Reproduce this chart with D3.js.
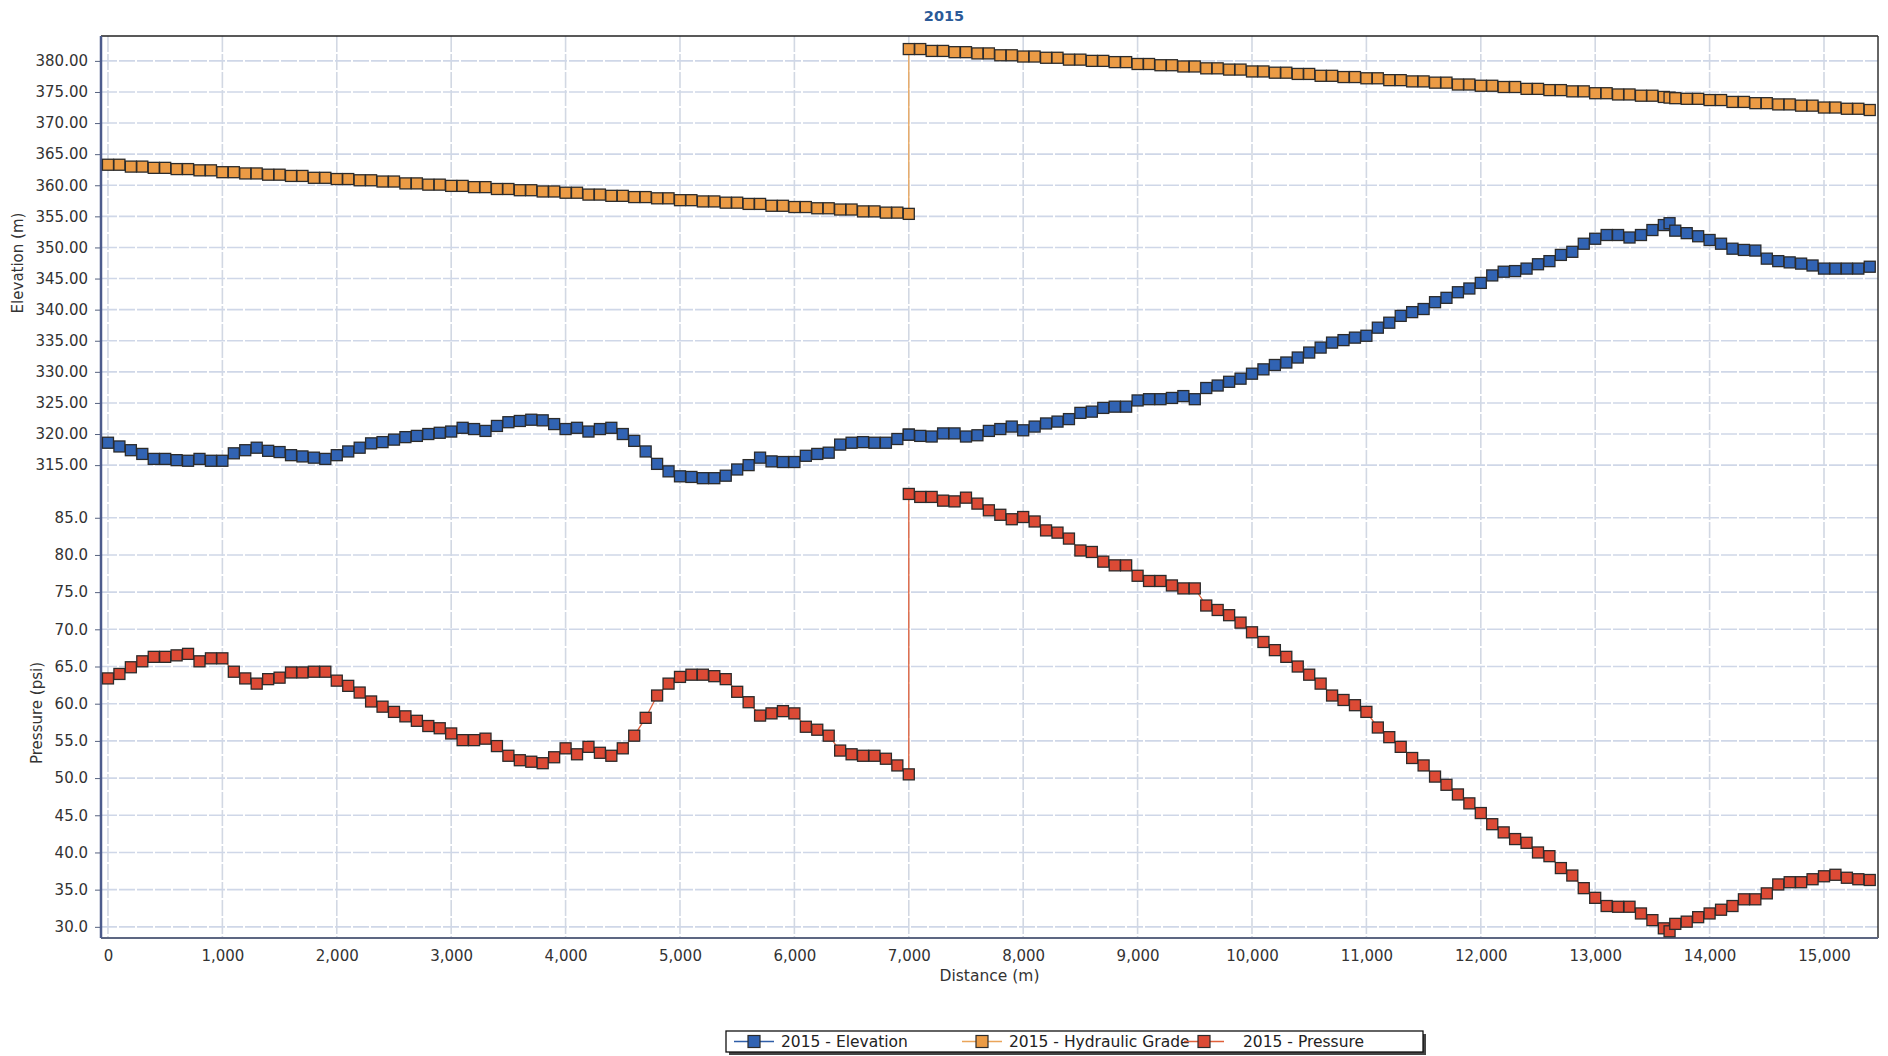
<!DOCTYPE html>
<html>
<head>
<meta charset="utf-8">
<title>2015</title>
<script src="https://d3js.org/d3.v7.min.js"></script>
<style>
  body { margin: 0; background: #fff; }
  svg text { font-family: "DejaVu Sans", Verdana, sans-serif; }
</style>
</head>
<body>
<div id="chart"></div>
<script>
// distance along the profile (m); 7000 appears twice (jump), 13650 is an extra node
const distance = [
  0,100,200,300,400,500,600,700,800,900,1000,
  1100,1200,1300,1400,1500,1600,1700,1800,1900,2000,
  2100,2200,2300,2400,2500,2600,2700,2800,2900,3000,
  3100,3200,3300,3400,3500,3600,3700,3800,3900,4000,
  4100,4200,4300,4400,4500,4600,4700,4800,4900,5000,
  5100,5200,5300,5400,5500,5600,5700,5800,5900,6000,
  6100,6200,6300,6400,6500,6600,6700,6800,6900,7000,
  7000,
  7100,7200,7300,7400,7500,7600,7700,7800,7900,8000,
  8100,8200,8300,8400,8500,8600,8700,8800,8900,9000,
  9100,9200,9300,9400,9500,9600,9700,9800,9900,10000,
  10100,10200,10300,10400,10500,10600,10700,10800,10900,11000,
  11100,11200,11300,11400,11500,11600,11700,11800,11900,12000,
  12100,12200,12300,12400,12500,12600,12700,12800,12900,13000,
  13100,13200,13300,13400,13500,13600,
  13650,
  13700,13800,13900,14000,
  14100,14200,14300,14400,14500,14600,14700,14800,14900,15000,
  15100,15200,15300,15400
]

const elevation = [
  318.6,318.0,317.4,316.8,316.0,316.0,315.8,315.7,316.0,315.7,315.7,
  316.9,317.4,317.8,317.3,317.1,316.6,316.4,316.2,316.0,316.6,
  317.2,317.8,318.5,318.7,319.1,319.5,319.7,320.0,320.2,320.4,
  321.0,320.8,320.5,321.3,321.9,322.1,322.3,322.2,321.6,320.8,
  321.0,320.4,320.8,321.0,320.0,318.9,317.2,315.2,314.0,313.2,
  313.1,312.9,312.9,313.3,314.3,315.0,316.2,315.6,315.5,315.5,
  316.5,316.8,317.0,318.3,318.6,318.7,318.6,318.6,319.2,319.9,
  319.9,
  319.7,319.6,320.1,320.1,319.6,319.8,320.5,320.8,321.2,320.6,
  321.2,321.7,322.0,322.4,323.4,323.6,324.2,324.4,324.4,325.4,
  325.6,325.6,325.8,326.1,325.6,327.4,327.8,328.4,328.9,329.7,
  330.4,331.1,331.5,332.3,333.1,333.9,334.7,335.1,335.5,335.8,
  337.1,337.9,339.0,339.6,340.1,341.2,341.9,342.8,343.4,344.3,
  345.5,346.1,346.2,346.6,347.3,347.8,348.8,349.3,350.6,351.4,
  352.0,352.0,351.6,352.0,352.8,353.6,
  353.9,
  352.7,352.3,351.8,351.2,
  350.6,349.8,349.6,349.5,348.2,347.8,347.6,347.4,347.1,346.6,
  346.6,346.6,346.6,346.9
]

const hydraulicGrade = [
  363.3,363.3,363.0,363.0,362.8,362.8,362.6,362.6,362.4,362.4,362.1,
  362.1,361.9,361.9,361.7,361.7,361.5,361.5,361.2,361.2,361.0,
  361.0,360.8,360.8,360.6,360.6,360.3,360.3,360.1,360.1,359.9,
  359.9,359.7,359.7,359.4,359.4,359.2,359.2,359.0,359.0,358.8,
  358.8,358.5,358.5,358.3,358.3,358.1,358.1,357.9,357.9,357.6,
  357.6,357.4,357.4,357.2,357.2,357.0,357.0,356.7,356.7,356.5,
  356.5,356.3,356.3,356.1,356.1,355.8,355.8,355.6,355.6,355.4,
  381.9,
  381.9,381.6,381.6,381.4,381.4,381.2,381.2,380.9,380.9,380.7,
  380.7,380.5,380.5,380.2,380.2,380.0,380.0,379.8,379.8,379.5,
  379.5,379.3,379.3,379.1,379.1,378.8,378.8,378.6,378.6,378.3,
  378.3,378.1,378.1,377.9,377.9,377.6,377.6,377.4,377.4,377.2,
  377.2,376.9,376.9,376.7,376.7,376.5,376.5,376.2,376.2,376.0,
  376.0,375.8,375.8,375.5,375.5,375.3,375.3,375.1,375.1,374.8,
  374.8,374.6,374.6,374.4,374.4,374.2,
  374.1,
  374.0,373.9,373.9,373.7,
  373.7,373.4,373.4,373.2,373.2,373.0,373.0,372.8,372.8,372.5,
  372.5,372.3,372.3,372.1
]

const pressure = [
  63.4,64.0,64.9,65.7,66.3,66.3,66.5,66.7,65.7,66.1,66.1,
  64.3,63.4,62.7,63.3,63.5,64.2,64.2,64.3,64.3,63.1,
  62.4,61.5,60.3,59.6,58.9,58.3,57.7,57.0,56.7,56.0,
  55.1,55.1,55.3,54.3,53.0,52.4,52.2,52.0,52.8,54.0,
  53.2,54.2,53.4,53.0,54.0,55.7,58.1,61.1,62.7,63.6,
  63.9,63.9,63.7,63.3,61.6,60.2,58.4,58.7,59.0,58.7,
  56.9,56.5,55.7,53.7,53.2,53.0,53.0,52.6,51.7,50.5,
  88.2,
  87.8,87.8,87.3,87.2,87.7,86.9,86.0,85.4,84.8,85.1,
  84.5,83.3,83.0,82.2,80.6,80.4,79.1,78.6,78.6,77.2,
  76.5,76.5,75.9,75.5,75.5,73.2,72.6,71.9,70.9,69.6,
  68.3,67.2,66.3,65.0,63.9,62.7,61.1,60.5,59.8,58.9,
  56.8,55.5,54.2,52.7,51.7,50.2,49.1,47.8,46.6,45.3,
  43.8,42.7,41.8,41.3,40.0,39.5,37.9,36.9,35.2,33.9,
  32.8,32.7,32.7,31.8,30.9,29.8,
  29.4,
  30.4,30.7,31.3,31.8,
  32.3,32.8,33.7,33.7,34.5,35.7,36.0,36.0,36.4,36.8,
  37.0,36.6,36.4,36.3
]

const xTicks = [0,1000,2000,3000,4000,5000,6000,7000,8000,9000,10000,11000,12000,13000,14000,15000]
const elevTicks = [315,320,325,330,335,340,345,350,355,360,365,370,375,380]
const presTicks = [30,35,40,45,50,55,60,65,70,75,80,85]
const seriesNames = ['2015 - Elevation', '2015 - Hydraulic Grade', '2015 - Pressure']

const width = 1888, height = 1056
const plotL = 101, plotR = 1878, plotT = 36, plotB = 938

const svg = d3.select('#chart').append('svg').attr('width', width).attr('height', height)
svg.append('rect').attr('width', width).attr('height', height).attr('fill', '#fff')

const x = d3.scaleLinear().domain([-61, 15472]).range([plotL, plotR])
const yElev = d3.scaleLinear().domain([311, 384]).range([490, plotT])
const yPres = d3.scaleLinear().domain([28.5, 89]).range([plotB, 488])

// grid
const grid = svg.append('g')
grid.selectAll('line.v').data(xTicks).enter().append('line')
  .attr('x1', d => x(d)).attr('x2', d => x(d)).attr('y1', plotT).attr('y2', plotB)
  .attr('stroke', '#d2d8e3').attr('stroke-width', 1.6).attr('stroke-dasharray', '16,2')
grid.selectAll('line.he').data(elevTicks).enter().append('line')
  .attr('x1', plotL).attr('x2', plotR).attr('y1', d => yElev(d)).attr('y2', d => yElev(d))
  .attr('stroke', '#cfd7e8').attr('stroke-width', 1.6).attr('stroke-dasharray', '16,2')
grid.selectAll('line.hp').data(presTicks).enter().append('line')
  .attr('x1', plotL).attr('x2', plotR).attr('y1', d => yPres(d)).attr('y2', d => yPres(d))
  .attr('stroke', '#cfd7e8').attr('stroke-width', 1.6).attr('stroke-dasharray', '16,2')

// axes
const axElev = svg.append('g').attr('transform', `translate(${plotL},0)`)
  .call(d3.axisLeft(yElev).tickValues(elevTicks).tickFormat(d3.format('.2f')).tickSize(6))
const axPres = svg.append('g').attr('transform', `translate(${plotL},0)`)
  .call(d3.axisLeft(yPres).tickValues(presTicks).tickFormat(d3.format('.1f')).tickSize(6))
const axX = svg.append('g').attr('transform', `translate(0,${plotB})`)
  .call(d3.axisBottom(x).tickValues(xTicks).tickFormat(d3.format(',')).tickSize(0).tickPadding(12))

;[axElev, axPres, axX].forEach(a => {
  a.select('.domain').remove()
  a.selectAll('text').attr('fill', '#333').style('font-size', '15px')
  a.selectAll('line').attr('stroke', '#56627f')
})
axElev.selectAll('text').attr('dx', '-4px')
axPres.selectAll('text').attr('dx', '-4px')

// frame
svg.append('line').attr('x1', plotL).attr('x2', plotR).attr('y1', plotT).attr('y2', plotT).attr('stroke', '#222').attr('stroke-width', 1.5)
svg.append('line').attr('x1', plotR).attr('x2', plotR).attr('y1', plotT).attr('y2', plotB).attr('stroke', '#333').attr('stroke-width', 1.5)
svg.append('line').attr('x1', plotL).attr('x2', plotR).attr('y1', plotB).attr('y2', plotB).attr('stroke', '#5d6782').attr('stroke-width', 2.2)
svg.append('line').attr('x1', plotL).attr('x2', plotL).attr('y1', plotT).attr('y2', plotB).attr('stroke', '#4c5b8c').attr('stroke-width', 2.5)

// series
const series = [
  {name: seriesNames[0], values: elevation, y: yElev, fill: '#3163b3', line: '#2f5ea8'},
  {name: seriesNames[1], values: hydraulicGrade, y: yElev, fill: '#eb9b45', line: '#eaa55a'},
  {name: seriesNames[2], values: pressure, y: yPres, fill: '#dc4a35', line: '#e0603a'}
]
const sz = 11
series.forEach(s => {
  const pts = distance.map((d, i) => [d, s.values[i]])
  const g = svg.append('g')
  g.append('path').datum(pts)
    .attr('d', d3.line().x(d => x(d[0])).y(d => s.y(d[1])))
    .attr('fill', 'none').attr('stroke', s.line).attr('stroke-width', 1.3)
  g.selectAll('rect').data(pts).enter().append('rect')
    .attr('x', d => x(d[0]) - sz / 2).attr('y', d => s.y(d[1]) - sz / 2)
    .attr('width', sz).attr('height', sz)
    .attr('fill', s.fill).attr('stroke', '#2b2b2b').attr('stroke-width', 1.3)
})

// titles
svg.append('text').attr('x', 944).attr('y', 21).attr('text-anchor', 'middle')
  .style('font-size', '14.5px').style('font-weight', 'bold').attr('fill', '#2b5a98').text('2015')
svg.append('text').attr('x', (plotL + plotR) / 2).attr('y', 981).attr('text-anchor', 'middle')
  .style('font-size', '15.5px').attr('fill', '#333').text('Distance (m)')
svg.append('text').attr('transform', 'translate(23,263) rotate(-90)').attr('text-anchor', 'middle')
  .style('font-size', '15px').attr('fill', '#333').text('Elevation (m)')
svg.append('text').attr('transform', 'translate(42,713) rotate(-90)').attr('text-anchor', 'middle')
  .style('font-size', '15px').attr('fill', '#333').text('Pressure (psi)')

// legend
const lg = svg.append('g').attr('transform', 'translate(726,1031)')
lg.append('rect').attr('x', 3).attr('y', 3).attr('width', 697).attr('height', 21).attr('fill', '#444')
lg.append('rect').attr('width', 697).attr('height', 21).attr('fill', '#fff').attr('stroke', '#111').attr('stroke-width', 1.3)
const lx = [8, 236, 458]
series.forEach((s, i) => {
  const it = lg.append('g').attr('transform', `translate(${lx[i]},10.5)`)
  it.append('line').attr('x1', 0).attr('x2', 40).attr('stroke', s.line).attr('stroke-width', 1.5)
  it.append('rect').attr('x', 14).attr('y', -6).attr('width', 12).attr('height', 12)
    .attr('fill', s.fill).attr('stroke', '#2b2b2b').attr('stroke-width', 1.2)
  it.append('text').attr('x', i === 2 ? 59 : 47).attr('y', 5.5).style('font-size', '15.5px').attr('fill', '#222').text(s.name)
})
</script>
</body>
</html>
